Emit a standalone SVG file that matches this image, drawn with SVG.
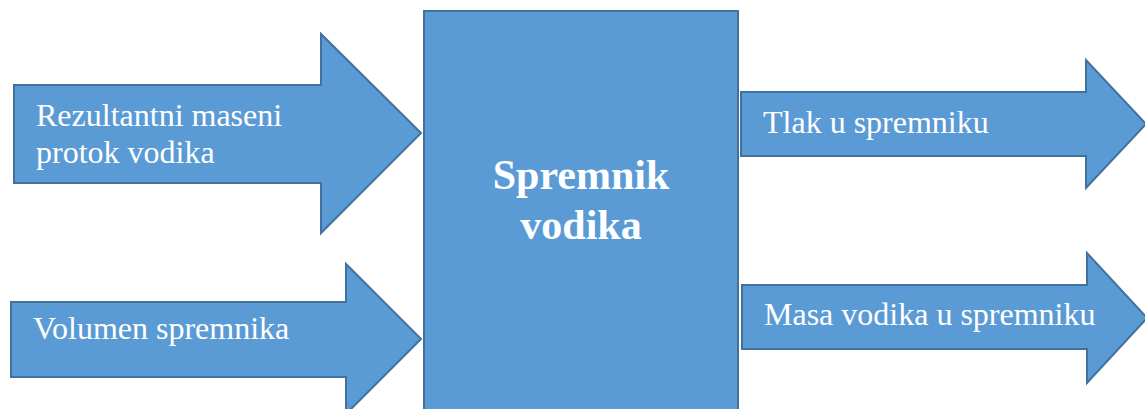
<svg xmlns="http://www.w3.org/2000/svg" width="1145" height="409" viewBox="0 0 1145 409">
<style>
.shape{fill:#5B9BD5;stroke:#41719C;stroke-width:2;stroke-linejoin:miter}
.lbl{font-family:"Liberation Serif","Times New Roman",serif;font-size:32px;fill:#ffffff}
.title{font-family:"Liberation Serif","Times New Roman",serif;font-size:42px;font-weight:bold;fill:#ffffff;text-anchor:middle}
</style>
<rect width="1145" height="409" fill="#ffffff"/>
<g id="connectors">
<g id="in-protok">
<polygon class="shape" points="14,85 321,85 321,34 421,133 321,233 321,183 14,183"/>
<text class="lbl" x="36" y="126">Rezultantni maseni</text>
<text class="lbl" x="36" y="163">protok vodika</text>
</g>
<g id="in-volumen">
<polygon class="shape" points="11,302 346,302 346,264 421,339 346,414 346,377 11,377"/>
<text class="lbl" x="33" y="339">Volumen spremnika</text>
</g>
<g id="out-tlak">
<polygon class="shape" points="741,92 1086,92 1086,60 1146,124 1086,188 1086,156 741,156"/>
<text class="lbl" x="763" y="133">Tlak u spremniku</text>
</g>
<g id="out-masa">
<polygon class="shape" points="742,285 1087,285 1087,253 1147,318 1087,383 1087,349 742,349"/>
<text class="lbl" x="764" y="325">Masa vodika u spremniku</text>
</g>
</g>
<g id="spremnik">
<rect class="shape" x="424" y="11" width="314" height="410"/>
<text class="title" x="581" y="189">Spremnik</text>
<text class="title" x="581" y="239">vodika</text>
</g>
</svg>
